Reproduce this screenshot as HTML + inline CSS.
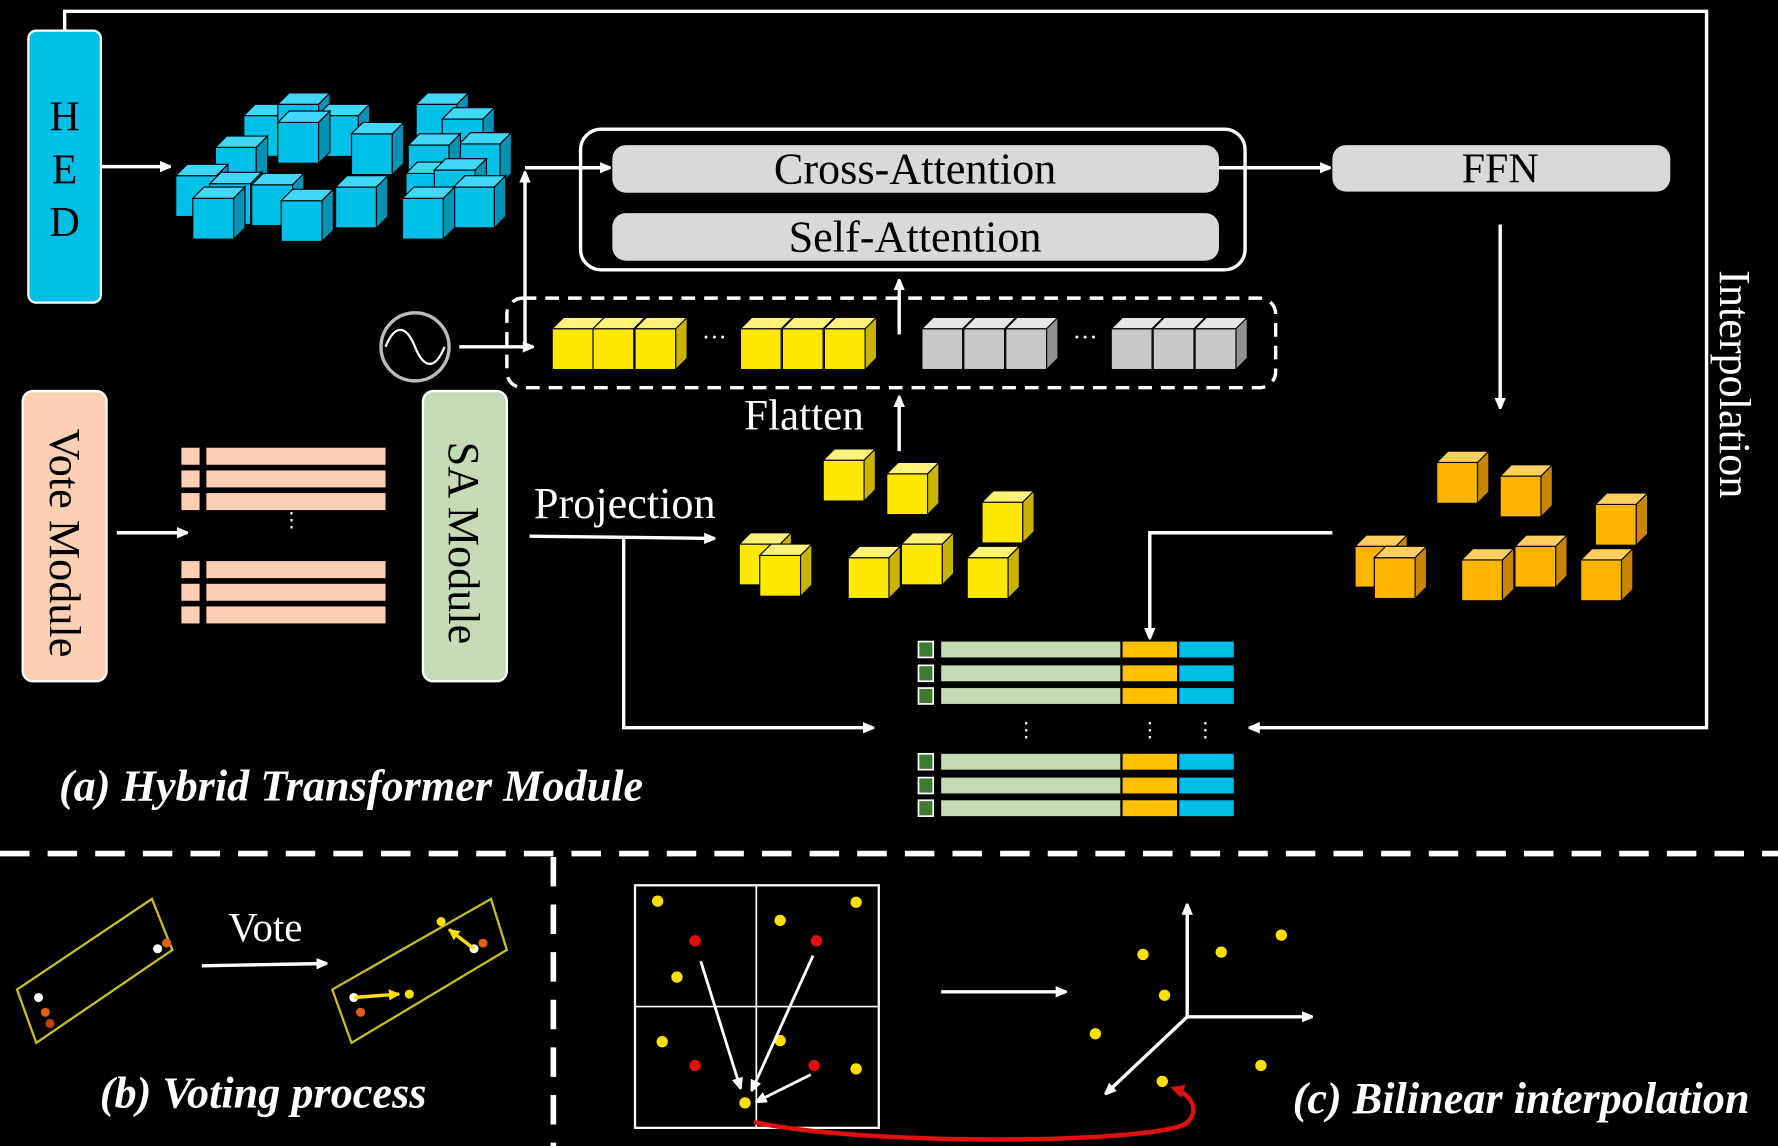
<!DOCTYPE html>
<html><head><meta charset="utf-8"><style>
html,body{margin:0;padding:0;background:#000;}
svg{display:block;}
text{font-family:"Liberation Serif",serif;}
</style></head><body>
<svg width="1778" height="1146" viewBox="0 0 1568 1011" preserveAspectRatio="none" xmlns="http://www.w3.org/2000/svg">
<defs>
<marker id="ah" markerWidth="10" markerHeight="10" refX="9" refY="5" orient="auto" markerUnits="userSpaceOnUse"><path d="M0,0 L12,5 L0,10 z" fill="#fff"/></marker>
<marker id="ahy" markerWidth="10" markerHeight="10" refX="9" refY="5" orient="auto" markerUnits="userSpaceOnUse"><path d="M0,0 L10,5 L0,10 z" fill="#ffe000"/></marker>
<marker id="ahr" markerWidth="12" markerHeight="12" refX="9" refY="6" orient="auto" markerUnits="userSpaceOnUse"><path d="M0,0 L12,6 L0,12 z" fill="#e01010"/></marker>
<g id="cc" stroke="#000" stroke-width="1"><rect x="0" y="10" width="36" height="36" fill="#00c0e8"/><polygon points="0,10 10,0 46,0 36,10" fill="#3fd8f8"/><polygon points="36,10 46,0 46,36 36,46" fill="#0092b4"/></g>
<g id="yc" stroke="#000" stroke-width="1"><rect x="0" y="10" width="36" height="36" fill="#ffe800"/><polygon points="0,10 10,0 46,0 36,10" fill="#fff27a"/><polygon points="36,10 46,0 46,36 36,46" fill="#c8b400"/></g>
<g id="oc" stroke="#000" stroke-width="1"><rect x="0" y="10" width="36" height="36" fill="#ffb400"/><polygon points="0,10 10,0 46,0 36,10" fill="#ffd060"/><polygon points="36,10 46,0 46,36 36,46" fill="#c88600"/></g>
<g id="gc" stroke="#000" stroke-width="1"><rect x="0" y="10" width="36" height="36" fill="#c8c8c8"/><polygon points="0,10 10,0 46,0 36,10" fill="#e6e6e6"/><polygon points="36,10 46,0 46,36 36,46" fill="#909090"/></g>
<g id="pr"><rect x="160" y="0" width="16" height="15" fill="#fdd0b4"/><rect x="182" y="0" width="158" height="15" fill="#fdd0b4"/></g>
<g id="gr"><rect x="810" y="0" width="13" height="14" fill="#3e7a30" stroke="#fff" stroke-width="1.5"/><rect x="830" y="0" width="158" height="14" fill="#c5dbb5"/><rect x="990" y="0" width="48" height="14" fill="#ffc000"/><rect x="1040" y="0" width="48" height="14" fill="#00bfe6"/></g>
</defs>
<rect width="1568" height="1011" fill="#000"/>
<polyline points="57,26 57,10 1505,10 1505,642 1102,642" fill="none" stroke="#fff" stroke-width="3" marker-end="url(#ah)"/>
<rect x="25" y="27" width="64" height="240" rx="7" fill="#00bfe6" stroke="#fff" stroke-width="2"/>
<text x="57" y="115" font-size="37" text-anchor="middle">H</text>
<text x="57" y="162" font-size="37" text-anchor="middle">E</text>
<text x="57" y="208" font-size="37" text-anchor="middle">D</text>
<line x1="90" y1="147" x2="150" y2="147" stroke="#fff" stroke-width="3" marker-end="url(#ah)"/>
<use href="#cc" x="215" y="92"/><use href="#cc" x="245" y="82"/><use href="#cc" x="280" y="92"/><use href="#cc" x="245" y="98"/><use href="#cc" x="310" y="108"/>
<use href="#cc" x="367" y="82"/><use href="#cc" x="390" y="95"/><use href="#cc" x="405" y="117"/><use href="#cc" x="360" y="118"/>
<use href="#cc" x="190" y="120"/><use href="#cc" x="155" y="145"/><use href="#cc" x="185" y="152"/><use href="#cc" x="170" y="165"/>
<use href="#cc" x="222" y="153"/><use href="#cc" x="248" y="167"/><use href="#cc" x="296" y="155"/>
<use href="#cc" x="358" y="143"/><use href="#cc" x="383" y="140"/><use href="#cc" x="400" y="155"/><use href="#cc" x="355" y="165"/>
<rect x="512" y="114" width="586" height="124" rx="18" fill="none" stroke="#fff" stroke-width="3"/>
<rect x="540" y="128" width="535" height="42" rx="12" fill="#d9d9d9"/>
<text x="807" y="162" font-size="39" text-anchor="middle">Cross-Attention</text>
<rect x="540" y="188" width="535" height="42" rx="12" fill="#d9d9d9"/>
<text x="807" y="222" font-size="39" text-anchor="middle">Self-Attention</text>
<line x1="1075" y1="148" x2="1173" y2="148" stroke="#fff" stroke-width="3" marker-end="url(#ah)"/>
<rect x="1175" y="128" width="298" height="41" rx="12" fill="#d9d9d9"/>
<text x="1323" y="161" font-size="37" text-anchor="middle">FFN</text>
<line x1="1323" y1="198" x2="1323" y2="360" stroke="#fff" stroke-width="3" marker-end="url(#ah)"/>
<rect x="447" y="263" width="678" height="79" rx="14" fill="none" stroke="#fff" stroke-width="3" stroke-dasharray="12,8"/>
<circle cx="366" cy="306" r="30" fill="#000" stroke="#bbb" stroke-width="3"/>
<path d="M340,306 C348,286 358,286 366,306 C374,326 384,326 392,306" fill="none" stroke="#fff" stroke-width="2"/>
<line x1="405" y1="306" x2="470" y2="306" stroke="#fff" stroke-width="3" marker-end="url(#ah)"/>
<polyline points="463,306 463,152" fill="none" stroke="#fff" stroke-width="3" marker-end="url(#ah)"/>
<polyline points="463,148 538,148" fill="none" stroke="#fff" stroke-width="3" marker-end="url(#ah)"/>
<use href="#yc" x="487" y="280"/><use href="#yc" x="523" y="280"/><use href="#yc" x="560" y="280"/>
<text x="630" y="305" font-size="22" fill="#fff" text-anchor="middle">···</text>
<use href="#yc" x="653" y="280"/><use href="#yc" x="690" y="280"/><use href="#yc" x="727" y="280"/>
<use href="#gc" x="813" y="280"/><use href="#gc" x="850" y="280"/><use href="#gc" x="887" y="280"/>
<text x="957" y="305" font-size="22" fill="#fff" text-anchor="middle">···</text>
<use href="#gc" x="980" y="280"/><use href="#gc" x="1017" y="280"/><use href="#gc" x="1054" y="280"/>
<line x1="793" y1="295" x2="793" y2="247" stroke="#fff" stroke-width="3" marker-end="url(#ah)"/>
<text x="709" y="379" font-size="38" fill="#fff" text-anchor="middle">Flatten</text>
<line x1="793" y1="398" x2="793" y2="350" stroke="#fff" stroke-width="3" marker-end="url(#ah)"/>
<use href="#yc" x="726" y="396"/><use href="#yc" x="782" y="408"/><use href="#yc" x="866" y="433"/>
<use href="#yc" x="652" y="470"/><use href="#yc" x="670" y="480"/><use href="#yc" x="748" y="482"/><use href="#yc" x="795" y="470"/><use href="#yc" x="853" y="482"/>
<use href="#oc" x="1267" y="398"/><use href="#oc" x="1323" y="410"/><use href="#oc" x="1407" y="435"/>
<use href="#oc" x="1195" y="472"/><use href="#oc" x="1212" y="482"/><use href="#oc" x="1289" y="484"/><use href="#oc" x="1336" y="472"/><use href="#oc" x="1394" y="484"/>
<rect x="20" y="345" width="74" height="256" rx="9" fill="#fdd0b4" stroke="#fff" stroke-width="2"/>
<text transform="translate(44,479) rotate(90)" font-size="39" text-anchor="middle">Vote Module</text>
<line x1="103" y1="470" x2="165" y2="470" stroke="#fff" stroke-width="3" marker-end="url(#ah)"/>
<use href="#pr" y="395"/><use href="#pr" y="415"/><use href="#pr" y="435"/>
<use href="#pr" y="495"/><use href="#pr" y="515"/><use href="#pr" y="535"/>
<text x="257" y="465" font-size="18" fill="#fff" text-anchor="middle">⋮</text>
<rect x="373" y="345" width="74" height="256" rx="9" fill="#c5dbb5" stroke="#fff" stroke-width="2"/>
<text transform="translate(396,479) rotate(90)" font-size="39" text-anchor="middle">SA Module</text>
<text x="551" y="457" font-size="39" fill="#fff" text-anchor="middle">Projection</text>
<line x1="467" y1="473" x2="630" y2="475" stroke="#fff" stroke-width="3" marker-end="url(#ah)"/>
<polyline points="550,475 550,642 770,642" fill="none" stroke="#fff" stroke-width="3" marker-end="url(#ah)"/>
<polyline points="1175,470 1014,470 1014,563" fill="none" stroke="#fff" stroke-width="3" marker-end="url(#ah)"/>
<use href="#gr" y="566"/><use href="#gr" y="587"/><use href="#gr" y="607"/>
<use href="#gr" y="665"/><use href="#gr" y="686"/><use href="#gr" y="706"/>
<text x="905" y="650" font-size="18" fill="#fff" text-anchor="middle">⋮</text>
<text x="1014" y="650" font-size="18" fill="#fff" text-anchor="middle">⋮</text>
<text x="1063" y="650" font-size="18" fill="#fff" text-anchor="middle">⋮</text>
<text transform="translate(1517,339) rotate(90)" font-size="39" fill="#fff" text-anchor="middle">Interpolation</text>
<text x="52" y="706" font-size="39" fill="#fff" font-weight="bold" font-style="italic">(a) Hybrid Transformer Module</text>
<line x1="0" y1="753" x2="1568" y2="753" stroke="#fff" stroke-width="5" stroke-dasharray="26,16"/>
<line x1="488" y1="756" x2="488" y2="1011" stroke="#fff" stroke-width="5" stroke-dasharray="26,16"/>
<polygon points="15,873 134,793 152,838 32,920" fill="none" stroke="#c8c020" stroke-width="2"/>
<circle cx="34" cy="880" r="4" fill="#fff"/><circle cx="40" cy="893" r="4" fill="#e06010"/><circle cx="44" cy="903" r="4" fill="#c04008"/>
<circle cx="139" cy="837" r="4" fill="#fff"/><circle cx="147" cy="832" r="4" fill="#e06010"/>
<text x="234" y="830" font-size="36" fill="#fff" text-anchor="middle">Vote</text>
<line x1="178" y1="852" x2="288" y2="850" stroke="#fff" stroke-width="3" marker-end="url(#ah)"/>
<polygon points="293,873 433,793 447,838 310,920" fill="none" stroke="#c8c020" stroke-width="2"/>
<circle cx="312" cy="880" r="4" fill="#fff"/><circle cx="318" cy="893" r="4" fill="#e06010"/>
<line x1="312" y1="880" x2="352" y2="877" stroke="#ffe000" stroke-width="3" marker-end="url(#ahy)"/>
<circle cx="361" cy="877" r="4" fill="#ffe000"/>
<circle cx="418" cy="837" r="4" fill="#fff"/><circle cx="426" cy="832" r="4" fill="#e06010"/>
<line x1="418" y1="837" x2="396" y2="820" stroke="#ffe000" stroke-width="3" marker-end="url(#ahy)"/>
<circle cx="389" cy="813" r="4" fill="#ffe000"/>
<text x="88" y="977" font-size="39" fill="#fff" font-weight="bold" font-style="italic">(b) Voting process</text>
<rect x="560" y="781" width="215" height="214" fill="none" stroke="#fff" stroke-width="2"/>
<line x1="667" y1="781" x2="667" y2="995" stroke="#fff" stroke-width="1.5"/>
<line x1="560" y1="888" x2="775" y2="888" stroke="#fff" stroke-width="1.5"/>
<g fill="#ffe000"><circle cx="580" cy="795" r="5"/><circle cx="688" cy="812" r="5"/><circle cx="755" cy="796" r="5"/><circle cx="597" cy="862" r="5"/><circle cx="584" cy="919" r="5"/><circle cx="688" cy="918" r="5"/><circle cx="755" cy="943" r="5"/><circle cx="657" cy="973" r="5"/></g>
<g fill="#e01010"><circle cx="613" cy="830" r="5"/><circle cx="720" cy="830" r="5"/><circle cx="613" cy="940" r="5"/><circle cx="718" cy="940" r="5"/></g>
<g stroke="#fff" stroke-width="2.5"><line x1="618" y1="848" x2="653" y2="960" marker-end="url(#ah)"/><line x1="717" y1="843" x2="663" y2="962" marker-end="url(#ah)"/><line x1="715" y1="948" x2="667" y2="972" marker-end="url(#ah)"/></g>
<line x1="830" y1="875" x2="940" y2="875" stroke="#fff" stroke-width="3" marker-end="url(#ah)"/>
<g stroke="#fff" stroke-width="3" fill="none"><line x1="1047" y1="897" x2="1047" y2="798" marker-end="url(#ah)"/><line x1="1047" y1="897" x2="1157" y2="897" marker-end="url(#ah)"/><line x1="1047" y1="897" x2="975" y2="965" marker-end="url(#ah)"/></g>
<g fill="#ffe000"><circle cx="1008" cy="842" r="5"/><circle cx="1077" cy="840" r="5"/><circle cx="1130" cy="825" r="5"/><circle cx="1027" cy="878" r="5"/><circle cx="966" cy="912" r="5"/><circle cx="1112" cy="940" r="5"/><circle cx="1025" cy="954" r="5"/></g>
<path d="M665,990 C760,1010 1000,1010 1045,992 C1060,980 1050,965 1035,960" fill="none" stroke="#e01010" stroke-width="4" marker-end="url(#ahr)"/>
<text x="1140" y="982" font-size="39" fill="#fff" font-weight="bold" font-style="italic">(c) Bilinear interpolation</text>
</svg>
</body></html>
